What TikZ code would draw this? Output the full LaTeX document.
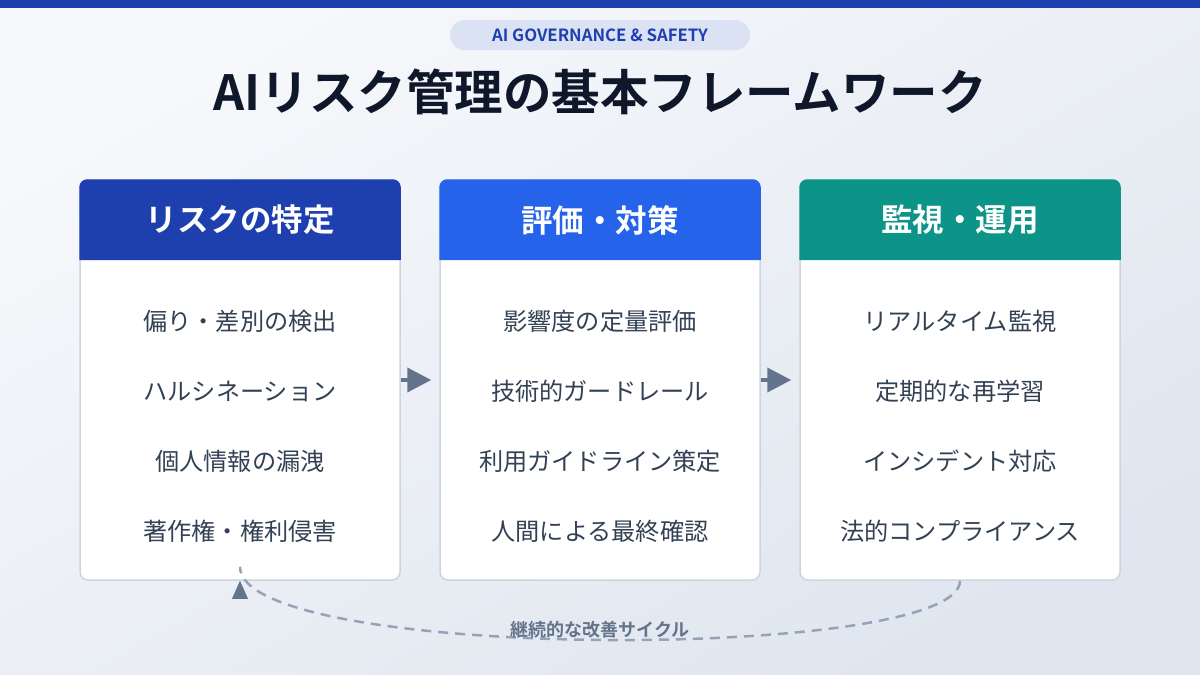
\documentclass[tikz,border=0pt]{standalone}
\usepackage{fontspec}
\setmainfont{Noto Sans CJK JP}[BoldFont={* Bold}]
\usetikzlibrary{arrows.meta}

\definecolor{topbar}{HTML}{1E40AF}
\definecolor{bgA}{HTML}{F6F8FB}
\definecolor{bgB}{HTML}{E0E6EF}
\definecolor{pillbg}{HTML}{DBE2F3}
\definecolor{titlecol}{HTML}{0F172A}
\definecolor{hdA}{HTML}{1E40AF}
\definecolor{hdB}{HTML}{2563EB}
\definecolor{hdC}{HTML}{0D9488}
\definecolor{cardline}{HTML}{CBD5E1}
\definecolor{itemcol}{HTML}{334155}
\definecolor{arrowcol}{HTML}{64748B}
\definecolor{loopcol}{HTML}{94A3B8}

\begin{document}
\begin{tikzpicture}[x=1pt, y=-1pt]

% Styles
\tikzset{
  card/.style={draw=cardline, line width=1.5pt, fill=white, rounded corners=8pt,
    minimum width=320pt, minimum height=400pt, inner sep=0pt},
  headtext/.style={text=white, font=\fontsize{31.5}{36}\selectfont\bfseries},
  item/.style={text=itemcol, font=\fontsize{24.2}{29}\selectfont},
  flow/.style={arrowcol, line width=4pt, -{Triangle[length=24pt, width=24pt]}, shorten >=8pt},
  cycle/.style={loopcol, line width=2.5pt, dash pattern=on 10pt off 7pt}
}

% Background
\useasboundingbox (0,0) rectangle (1200,675);
\shade[top color=bgA, bottom color=bgB, shading angle=30] (0,0) rectangle (1200,675);
\fill[topbar] (0,0) rectangle (1200,8);

% Tag and title
\node[fill=pillbg, rounded corners=15pt, minimum width=300pt, minimum height=30pt,
  text=topbar, font=\fontsize{16.8}{20}\selectfont\bfseries] (tag) at (600,35)
  {AI GOVERNANCE \& SAFETY};
\node[text=titlecol, font=\fontsize{48.5}{56}\selectfont\bfseries] (title) at (600,92)
  {AIリスク管理の基本フレームワーク};

% Cards
\node[card] (risk) at (240,380) {};
\node[card] (eval) at (600,380) {};
\node[card] (watch) at (960,380) {};

% Card headers
\fill[hdA] (risk.west |- 0,260) {[rounded corners=8pt] -- (risk.north west)
  -- (risk.north east)} -- (risk.east |- 0,260) -- cycle;
\fill[hdB] (eval.west |- 0,260) {[rounded corners=8pt] -- (eval.north west)
  -- (eval.north east)} -- (eval.east |- 0,260) -- cycle;
\fill[hdC] (watch.west |- 0,260) {[rounded corners=8pt] -- (watch.north west)
  -- (watch.north east)} -- (watch.east |- 0,260) -- cycle;

\node[headtext] (riskhd) at (240,220) {リスクの特定};
\node[headtext] (evalhd) at (600,220) {評価・対策};
\node[headtext] (watchhd) at (960,220) {監視・運用};

% Items
\foreach \txt [count=\i] in {偏り・差別の検出, ハルシネーション, 個人情報の漏洩, 著作権・権利侵害}
  \node[item] (risk\i) at (240,251+70*\i) {\txt};
\foreach \txt [count=\i] in {影響度の定量評価, 技術的ガードレール, 利用ガイドライン策定, 人間による最終確認}
  \node[item] (eval\i) at (600,251+70*\i) {\txt};
\foreach \txt [count=\i] in {リアルタイム監視, 定期的な再学習, インシデント対応, 法的コンプライアンス}
  \node[item] (watch\i) at (960,251+70*\i) {\txt};

% Flow between cards
\draw[flow] (risk.east) -- (eval.west);
\draw[flow] (eval.east) -- (watch.west);

% Improvement cycle
\draw[cycle] (watch.south) .. controls (960,662) and (240,662) .. ([yshift=14pt]risk.south);
\fill[arrowcol] (risk.south) -- ++(-8,18) -- ++(16,0) -- cycle;
\node[text=arrowcol, font=\fontsize{18}{21}\selectfont\bfseries] (cyclelbl) at (600,630)
  {継続的な改善サイクル};

\end{tikzpicture}
\end{document}
